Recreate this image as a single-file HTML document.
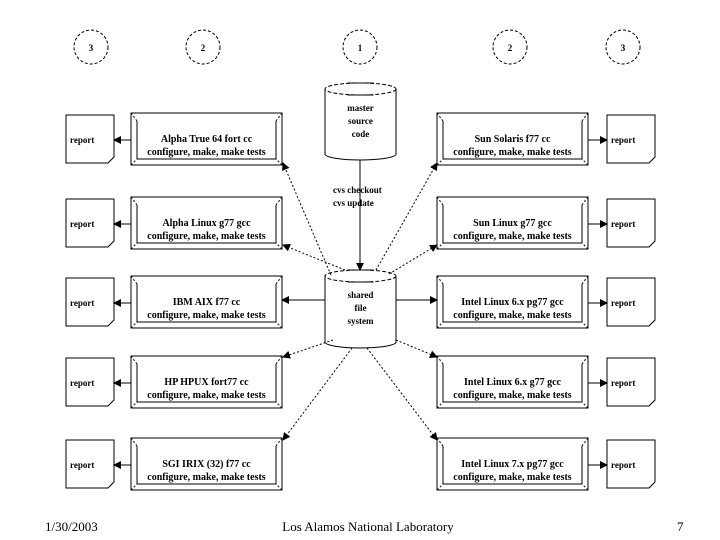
<!DOCTYPE html>
<html><head><meta charset="utf-8"><style>
html,body{margin:0;padding:0;background:#fff;width:720px;height:540px;overflow:hidden}
svg{display:block}
text{font-family:"Liberation Serif",serif;fill:#000}
</style></head><body>
<svg id="s" width="720" height="540" viewBox="0 0 720 540" xmlns="http://www.w3.org/2000/svg">
<defs><marker id="a" markerWidth="8" markerHeight="8" refX="7" refY="4" orient="auto" markerUnits="userSpaceOnUse"><path d="M0,0 L8,4 L0,8 z" fill="#000"/></marker></defs>
<g id="g" stroke="#000" fill="none" stroke-width="1"></g>
<text x="45" y="531" font-size="13">1/30/2003</text>
<text x="368" y="531" font-size="13" text-anchor="middle">Los Alamos National Laboratory</text>
<text x="677" y="531" font-size="13">7</text>
</svg>
<script>
var g=document.getElementById('g'),s=document.getElementById('s'),h='',t='';
function T(x,y,str,sz,anc){t+='<text x="'+x+'" y="'+y+'" font-size="'+(sz||10)+'" font-weight="bold" text-anchor="'+(anc||'middle')+'">'+str+'</text>';}
[[91,'3'],[203,'2'],[360,'1'],[510,'2'],[623,'3']].forEach(function(c){h+='<circle cx="'+c[0]+'" cy="47" r="17" stroke-dasharray="3,2"/>';T(c[0],51,c[1],9);});
function cyl(x,y,w,hh,lines){var rx=w/2,ry=6,cx=x+rx;h+='<path d="M'+x+','+(y+ry)+' V'+(y+hh-ry)+' A'+rx+','+ry+' 0 0 0 '+(x+w)+','+(y+hh-ry)+' V'+(y+ry)+'"/>';h+='<ellipse cx="'+cx+'" cy="'+(y+ry)+'" rx="'+rx+'" ry="'+ry+'" stroke-dasharray="4,2"/>';h+='<line x1="'+(cx-13)+'" y1="'+y+'" x2="'+(cx+13)+'" y2="'+y+'"/><line x1="'+(cx-13)+'" y1="'+(y+12)+'" x2="'+(cx+13)+'" y2="'+(y+12)+'"/>';lines.forEach(function(l,i){T(cx,y+28+i*13,l,9);});}
cyl(325,83,71,77,['master','source','code']);
cyl(325,270,71,78,['shared','file','system']);
h+='<line x1="360" y1="160" x2="360" y2="270" marker-end="url(#a)"/>';
T(333,193,'cvs checkout',9,'start');T(333,206,'cvs update',9,'start');
var rows=[113,197,276,356,438];
var L=[['Alpha True 64 fort cc'],['Alpha Linux g77 gcc'],['IBM AIX f77 cc'],['HP HPUX fort77 cc'],['SGI IRIX (32) f77 cc']];
var R=[['Sun Solaris f77 cc'],['Sun Linux g77 gcc'],['Intel Linux 6.x pg77 gcc'],['Intel Linux 6.x g77 gcc'],['Intel Linux 7.x pg77 gcc']];
function prog(x,y,name){var w=151,hh=52;h+='<rect x="'+x+'" y="'+y+'" width="'+w+'" height="'+hh+'"/>';h+='<path d="M'+(x+6)+','+(y+8)+' V'+(y+46)+' H'+(x+w-6)+' V'+(y+8)+'" />';h+='<path d="M'+x+','+y+' L'+(x+6)+','+(y+8)+' M'+(x+w)+','+y+' L'+(x+w-6)+','+(y+8)+' M'+x+','+(y+hh)+' L'+(x+6)+','+(y+46)+' M'+(x+w)+','+(y+hh)+' L'+(x+w-6)+','+(y+46)+'" stroke-dasharray="2,2"/>';T(x+w/2,y+29,name,10);T(x+w/2,y+42,'configure, make, make tests',10);}
function rep(x,y){h+='<path d="M'+x+','+y+' H'+(x+48)+' V'+(y+42)+' L'+(x+42)+','+(y+48)+' H'+x+' Z"/>';T(x+4,y+28,'report',9,'start');}
rows.forEach(function(y,i){prog(131,y,L[i][0]);prog(437,y,R[i][0]);rep(66,y+2);rep(607,y+2);
h+='<line x1="131" y1="'+(y+27)+'" x2="114" y2="'+(y+27)+'" marker-end="url(#a)"/>';
h+='<line x1="588" y1="'+(y+27)+'" x2="607" y2="'+(y+27)+'" marker-end="url(#a)"/>';});
h+='<line x1="325" y1="300" x2="282" y2="300" marker-end="url(#a)"/><line x1="396" y1="300" x2="437" y2="300" marker-end="url(#a)"/>';
[[331,275,283,163],[345,270,283,245],[376,270,437,163],[389,274,437,245],[333,340,283,357],[352,348,283,440],[367,348,437,440],[396,340,437,357]].forEach(function(d){h+='<line x1="'+d[0]+'" y1="'+d[1]+'" x2="'+d[2]+'" y2="'+d[3]+'" stroke-dasharray="2,2" marker-end="url(#a)"/>';});
g.innerHTML=h;s.insertAdjacentHTML('beforeend',t);
</script>
</body></html>
